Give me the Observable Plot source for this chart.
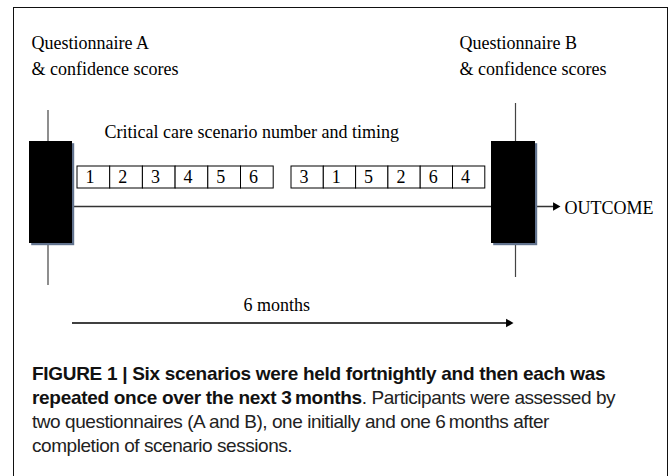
<!DOCTYPE html>
<html>
<head>
<meta charset="utf-8">
<script src="https://cdn.jsdelivr.net/npm/d3@7"></script>
<script src="https://cdn.jsdelivr.net/npm/@observablehq/plot@0.6"></script>
<style>
  html, body { margin: 0; padding: 0; background: #fff; }
  #wrap { position: relative; width: 671px; height: 476px; overflow: hidden; }
  #frame { position: absolute; left: 13px; top: 7px; width: 653px; height: 500px;
           border-left: 1px solid #111; border-top: 1px solid #111; border-right: 1px solid #111; }
  #chart svg { display: block; }
  #caption { margin: 17px 0 0 32px; font-family: "Liberation Sans", Arial, sans-serif;
             font-size: 19px; line-height: 24px; color: #222; white-space: nowrap; letter-spacing: -0.45px; }
  #caption b { color: #111; letter-spacing: -0.3px; }
</style>
</head>
<body>
<div id="wrap">
  <div id="chart"></div>
  <div id="caption"></div>
  <div id="frame"></div>
</div>
<script>
// ---- content ----
const firstRound = [1, 2, 3, 4, 5, 6];
const repeatRound = [3, 1, 5, 2, 6, 4];
const questionnaires = ["Questionnaire A", "Questionnaire B"];
const questionnaireNote = "& confidence scores";
const timelineLabel = "Critical care scenario number and timing";
const outcomeLabel = "OUTCOME";
const durationLabel = "6 months";
const captionBold = ["FIGURE 1 | Six scenarios were held fortnightly and then each was",
                     "repeated once over the next 3\u2009months"];
const captionRegular = [". Participants were assessed by",
                        "two questionnaires (A and B), one initially and one 6\u2009months after",
                        "completion of scenario sessions."];

// ---- layout (pixels) ----
const W = 671, H = 345;
const L = {
  qTextX: [31, 459], qBaseline: 74, qLineGap: 26,
  boxX1: [29, 491], boxX2: [72, 535], boxY1: 141, boxY2: 243, shadow: 2.2,
  stemX: [47.5, 515], stemY1: [110, 103], stemY2: [285, 277],
  rowStart: [77, 291], cellW: [32.7, 32.3], cellY1: 166, cellY2: 188, digitDx: 8, digitBaseline: 182,
  labelX: 104, labelBaseline: 137,
  lineY: 206, lineX1: 50, lineX2: 554, outcomeTip: 560,
  outcomeX: 564, outcomeBaseline: 213,
  durY: 322.5, durX1: 72, durTip: 513, durLabelX: 243, durBaseline: 310
};

const cells = [
  ...firstRound.map((n, i) => ({n, x1: L.rowStart[0] + i * L.cellW[0], x2: L.rowStart[0] + (i + 1) * L.cellW[0]})),
  ...repeatRound.map((n, i) => ({n, x1: L.rowStart[1] + i * L.cellW[1], x2: L.rowStart[1] + (i + 1) * L.cellW[1]}))
];
const boxes = questionnaires.map((q, i) => ({
  q, x1: L.boxX1[i], x2: L.boxX2[i], sx: L.stemX[i], sy1: L.stemY1[i], sy2: L.stemY2[i],
  tx: L.qTextX[i], text: q + "\n" + questionnaireNote
}));

// triangle heads: d3 triangle tip is 2*sqrt(size/(3*sqrt3)) from centre
const headR = 3.2;
const tipOff = 2 * Math.sqrt(Math.PI * headR * headR / (3 * Math.sqrt(3)));

const serif = "Liberation Serif, Times New Roman, serif";
const plot = Plot.plot({
  width: W, height: H, margin: 0,
  x: {domain: [0, W], range: [0, W], axis: null},
  y: {domain: [0, H], range: [0, H], axis: null},
  style: {background: "transparent"},
  marks: [
    // questionnaire labels
    Plot.text(boxes, {x: "tx", y: () => L.qBaseline, text: "text", textAnchor: "start", lineAnchor: "bottom",
      lineHeight: L.qLineGap / 18, fontSize: 18, fontFamily: serif, fill: "#000"}),
    // stems
    Plot.ruleX(boxes, {x: "sx", y1: "sy1", y2: "sy2", stroke: "#444", strokeWidth: 1.2}),
    // main timeline
    Plot.ruleY([L.lineY], {x1: L.lineX1, x2: L.lineX2, stroke: "#333", strokeWidth: 1.6}),
    Plot.dot([{x: L.outcomeTip - tipOff, y: L.lineY}], {x: "x", y: "y", symbol: "triangle", r: headR, rotate: 90, fill: "#000", stroke: null}),
    // box shadows and boxes
    Plot.rect(boxes, {x1: d => d.x1 + L.shadow, x2: d => d.x2 + L.shadow, y1: L.boxY1 + L.shadow, y2: L.boxY2 + L.shadow, fill: "#62738e"}),
    Plot.rect(boxes, {x1: "x1", x2: "x2", y1: L.boxY1, y2: L.boxY2, fill: "#000"}),
    // scenario cells
    Plot.rect(cells, {x1: "x1", x2: "x2", y1: L.cellY1, y2: L.cellY2, fill: "#fff", stroke: "#000", strokeWidth: 1}),
    Plot.text(cells, {x: d => d.x1 + L.digitDx, y: () => L.digitBaseline, text: d => String(d.n), textAnchor: "start",
      lineAnchor: "bottom", fontSize: 18, fontFamily: serif, fill: "#000"}),
    // labels
    Plot.text([timelineLabel], {x: () => L.labelX, y: () => L.labelBaseline, text: d => d, textAnchor: "start",
      lineAnchor: "bottom", fontSize: 18, fontFamily: serif, fill: "#000"}),
    Plot.text([outcomeLabel], {x: () => L.outcomeX, y: () => L.outcomeBaseline, text: d => d, textAnchor: "start",
      lineAnchor: "bottom", fontSize: 18, fontFamily: serif, fill: "#000"}),
    // duration arrow
    Plot.ruleY([L.durY], {x1: L.durX1, x2: L.durTip - 4, stroke: "#000", strokeWidth: 1.6}),
    Plot.dot([{x: L.durTip - tipOff, y: L.durY}], {x: "x", y: "y", symbol: "triangle", r: headR, rotate: 90, fill: "#000", stroke: null}),
    Plot.text([durationLabel], {x: () => L.durLabelX, y: () => L.durBaseline, text: d => d, textAnchor: "start",
      lineAnchor: "bottom", fontSize: 18, fontFamily: serif, fill: "#000"})
  ]
});
document.getElementById("chart").append(plot);

// caption
const cap = document.getElementById("caption");
const b = document.createElement("b");
b.append(captionBold[0], document.createElement("br"), captionBold[1]);
cap.append(b, captionRegular[0], document.createElement("br"), captionRegular[1],
           document.createElement("br"), captionRegular[2]);
</script>
</body>
</html>
